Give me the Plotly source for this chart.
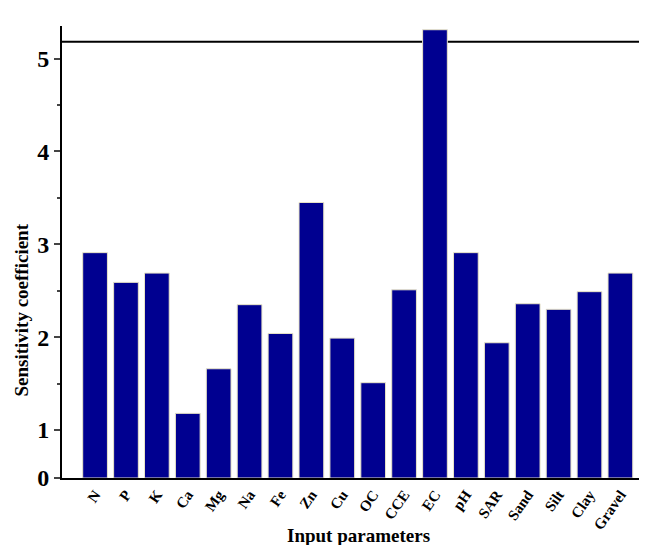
import plotly.graph_objects as go

params = ["N", "P", "K", "Ca", "Mg", "Na", "Fe", "Zn", "Cu", "OC", "CCE", "EC",
          "pH", "SAR", "Sand", "Silt", "Clay", "Gravel"]
sensitivity = [2.91, 2.59, 2.69, 1.18, 1.66, 2.35, 2.04, 3.45, 1.99, 1.51, 2.51, 5.31,
               2.91, 1.94, 2.36, 2.30, 2.49, 2.69]
tick_vals = [0.484, 1, 2, 3, 4, 5]
tick_text = ["0", "1", "2", "3", "4", "5"]

font = "Liberation Serif"
floor = 0.484

fig = go.Figure(go.Bar(
    x=params, y=[v - floor for v in sensitivity], base=floor,
    marker=dict(color="#000090", line=dict(color="#e8e4c8", width=1)),
))

# top frame line sits below the tallest bar
fig.add_shape(type="line", xref="paper", yref="y", x0=0, x1=1, y0=5.18, y1=5.18,
              line=dict(color="black", width=2), layer="below")

fig.add_annotation(text="<b>Input parameters</b>", xref="paper", yref="paper",
                   x=0.5, y=-0.128, yanchor="middle", showarrow=False,
                   font=dict(size=19, family=font))
fig.add_annotation(text="<b>Sensitivity coefficient</b>", xref="paper", yref="paper",
                   x=-0.068, y=0.372, xanchor="center", yanchor="middle",
                   textangle=-90, showarrow=False,
                   font=dict(size=19, family=font))

fig.update_layout(
    width=647, height=545,
    margin=dict(l=54, r=0, t=18, b=75),
    plot_bgcolor="white", paper_bgcolor="white",
    bargap=0.2, showlegend=False,
    font=dict(family=font, color="black"),
)
fig.update_xaxes(
    range=[-1.07, 18.12], showline=True, linecolor="black", linewidth=2,
    ticks="", tickangle=-55, tickfont=dict(size=15, family=font), automargin=False,
    tickvals=params, ticktext=["<b>%s</b>" % p for p in params],
)
fig.update_yaxes(
    range=[floor, 5.35], showline=True, linecolor="black", linewidth=2, automargin=False,
    ticks="outside", ticklen=6, tickwidth=1.5, showgrid=False, zeroline=False,
    tickvals=tick_vals, ticktext=["<b>%s</b>" % t for t in tick_text],
    tickfont=dict(size=24, family=font),
    minor=dict(tickvals=[1.5, 2.5, 3.5, 4.5], ticks="outside", ticklen=3),
)

fig.write_html("out.html")
